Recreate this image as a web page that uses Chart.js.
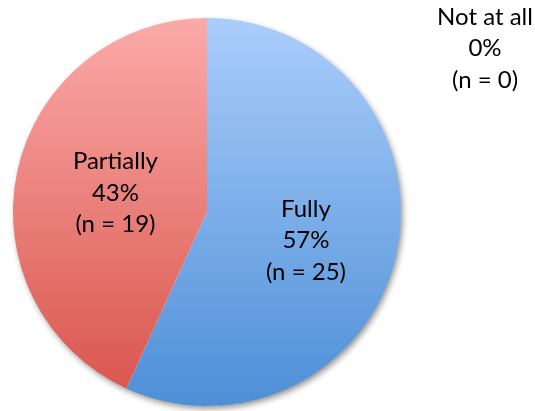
<!DOCTYPE html>
<html>
<head>
<meta charset="utf-8">
<script src="https://cdn.jsdelivr.net/npm/chart.js@4/dist/chart.umd.min.js"></script>
<style>
  html, body { margin: 0; padding: 0; background: #fff; }
  #wrap { width: 535px; height: 411px; }
</style>
</head>
<body>
<div id="wrap"><canvas id="pie"></canvas></div>
<script>
const categories = ["Fully", "Partially", "Not at all"];
const counts = [25, 19, 0];
const percentLabels = ["57%", "43%", "0%"];

// label anchor (middle line baseline), in units of the pie radius from its centre
const LABEL_OFFSETS = [[0.51, 0.188], [-0.472, -0.057], [1.433, -0.804]];
const LINE_H = 31.5;
const FONT = "24px Lato, 'Open Sans', sans-serif";

// top -> bottom colour stops for each slice
const SLICE_COLORS = [
  ["#abcdfb", "#4d8fd7"],
  ["#fbaaa8", "#d8534a"],
  ["#cccccc", "#999999"],
];

function sliceFill(ctx) {
  const chart = ctx.chart;
  const area = chart.chartArea;
  if (!area) return SLICE_COLORS[ctx.dataIndex][0];
  const g = chart.ctx.createLinearGradient(0, area.top, 0, area.bottom);
  g.addColorStop(0, SLICE_COLORS[ctx.dataIndex][0]);
  g.addColorStop(1, SLICE_COLORS[ctx.dataIndex][1]);
  return g;
}

// soft drop shadow under the whole pie
const pieShadow = {
  id: "pieShadow",
  beforeDatasetsDraw(chart) {
    const arc = chart.getDatasetMeta(0).data[0];
    if (!arc) return;
    const ctx = chart.ctx;
    ctx.save();
    ctx.shadowColor = "rgba(0,0,0,0.45)";
    ctx.shadowBlur = 6;
    ctx.shadowOffsetX = 2;
    ctx.shadowOffsetY = 3;
    ctx.fillStyle = "#ffffff";
    ctx.beginPath();
    ctx.arc(arc.x, arc.y, arc.outerRadius - 0.5, 0, Math.PI * 2);
    ctx.fill();
    ctx.restore();
  },
};

const sliceLabels = {
  id: "sliceLabels",
  afterDatasetsDraw(chart) {
    const meta = chart.getDatasetMeta(0);
    const ctx = chart.ctx;
    ctx.save();
    ctx.font = FONT;
    ctx.fillStyle = "#000";
    ctx.textAlign = "center";
    ctx.textBaseline = "alphabetic";
    meta.data.forEach((arc, i) => {
      const r = arc.outerRadius;
      const x = arc.x + LABEL_OFFSETS[i][0] * r;
      const y = arc.y + LABEL_OFFSETS[i][1] * r;
      const lines = [categories[i], percentLabels[i], "(n = " + counts[i] + ")"];
      lines.forEach((t, k) => ctx.fillText(t, x, y + (k - 1) * LINE_H));
    });
    ctx.restore();
  },
};

new Chart(document.getElementById("pie"), {
  type: "pie",
  data: {
    labels: categories,
    datasets: [{
      data: counts,
      backgroundColor: sliceFill,
      borderWidth: 0,
      hoverOffset: 0,
    }],
  },
  options: {
    responsive: true,
    maintainAspectRatio: false,
    animation: false,
    layout: { padding: { left: 13, top: 18, right: 134, bottom: 5 } },
    plugins: {
      legend: { display: false },
      tooltip: { enabled: false },
    },
  },
  plugins: [pieShadow, sliceLabels],
});
</script>
</body>
</html>
